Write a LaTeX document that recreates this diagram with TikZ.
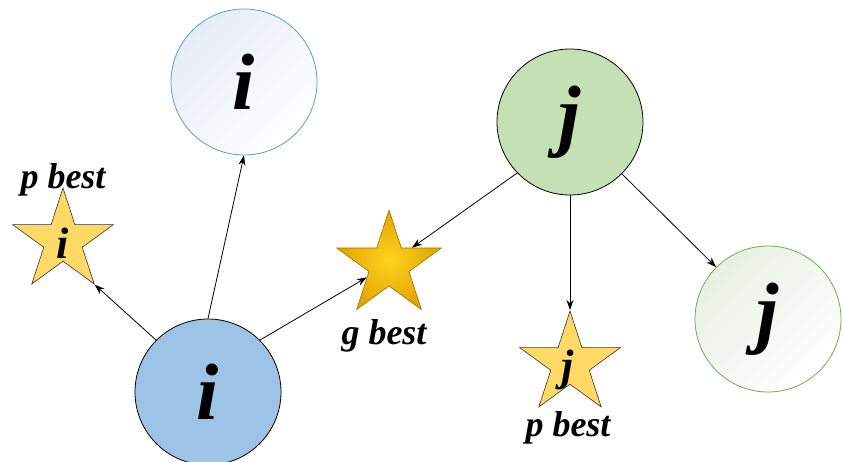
\documentclass[tikz,border=0pt]{standalone}
\usepackage{fontspec}
\setmainfont{Liberation Serif}
\usetikzlibrary{shapes.geometric,arrows.meta}

\definecolor{ifill}{HTML}{9DC3E6}
\definecolor{jfill}{HTML}{C5E0B4}
\definecolor{iline}{HTML}{5B9BD5}
\definecolor{jline}{HTML}{70AD47}
\definecolor{ipale}{HTML}{E6ECF7}
\definecolor{jpale}{HTML}{E8F0E4}
\definecolor{pfill}{HTML}{FFD966}
\definecolor{goldlight}{HTML}{FFD21F}
\definecolor{golddark}{HTML}{E2A400}
\definecolor{goldline}{HTML}{9A7400}

\tikzset{
  particle/.style={circle, draw, line width=0.8pt, minimum size=146pt, inner sep=0pt,
    font=\fontsize{80}{80}\selectfont\bfseries\itshape},
  pbest/.style={star, star points=5, star point ratio=2.618, draw=black!80, line width=0.6pt,
    fill=pfill, minimum size=106pt, inner sep=0pt},
  letter/.style={inner sep=0pt, font=\fontsize{44}{44}\selectfont\bfseries\itshape},
  tag/.style={font=\fontsize{36}{36}\selectfont\bfseries\itshape},
  move/.style={-{Stealth[length=10pt,width=7pt]}, line width=0.8pt}
}

\begin{document}
\begin{tikzpicture}[x=1pt,y=-1pt]
\useasboundingbox (0,0) rectangle (843,461);

% particles i and j, before and after the move
\node[particle, draw=iline, top color=ipale, bottom color=white, shading angle=45] (i1) at (244,82) {i};
\node[particle, fill=ifill] (i0) at (208,392) {i};
\node[particle, fill=jfill] (j0) at (570,122) {\raisebox{-5pt}{j}};
\node[particle, draw=jline, top color=jpale, bottom color=white, shading angle=45] (j1) at (768,319) {\raisebox{-5pt}{j}};

% personal and global bests
\node[pbest] (pi) at (63,241) {};
\node[letter] (pil) at (63,243) {i};
\node[pbest] (pj) at (570,364) {};
\node[letter] (pjl) at (568,370) {j};
\node[pbest, minimum size=110pt, draw=goldline, inner color=goldlight, outer color=golddark] (g) at (389,265) {};

\node[tag] (pit) at (63,180) {p best};
\node[tag] (gt) at (384,336) {g best};
\node[tag] (pjt) at (568,428) {p best};

% moves
\draw[move] (i0.north) -- (i1.south);
\draw[move] (i0.135) -- (pi.-54);
\draw[move] (i0.45) -- (g.209);
\draw[move] (j0.224) -- (g.37);
\draw[move] (j0.south) -- (pj.north);
\draw[move] (j0.-45) -- (j1.135);
\end{tikzpicture}
\end{document}
